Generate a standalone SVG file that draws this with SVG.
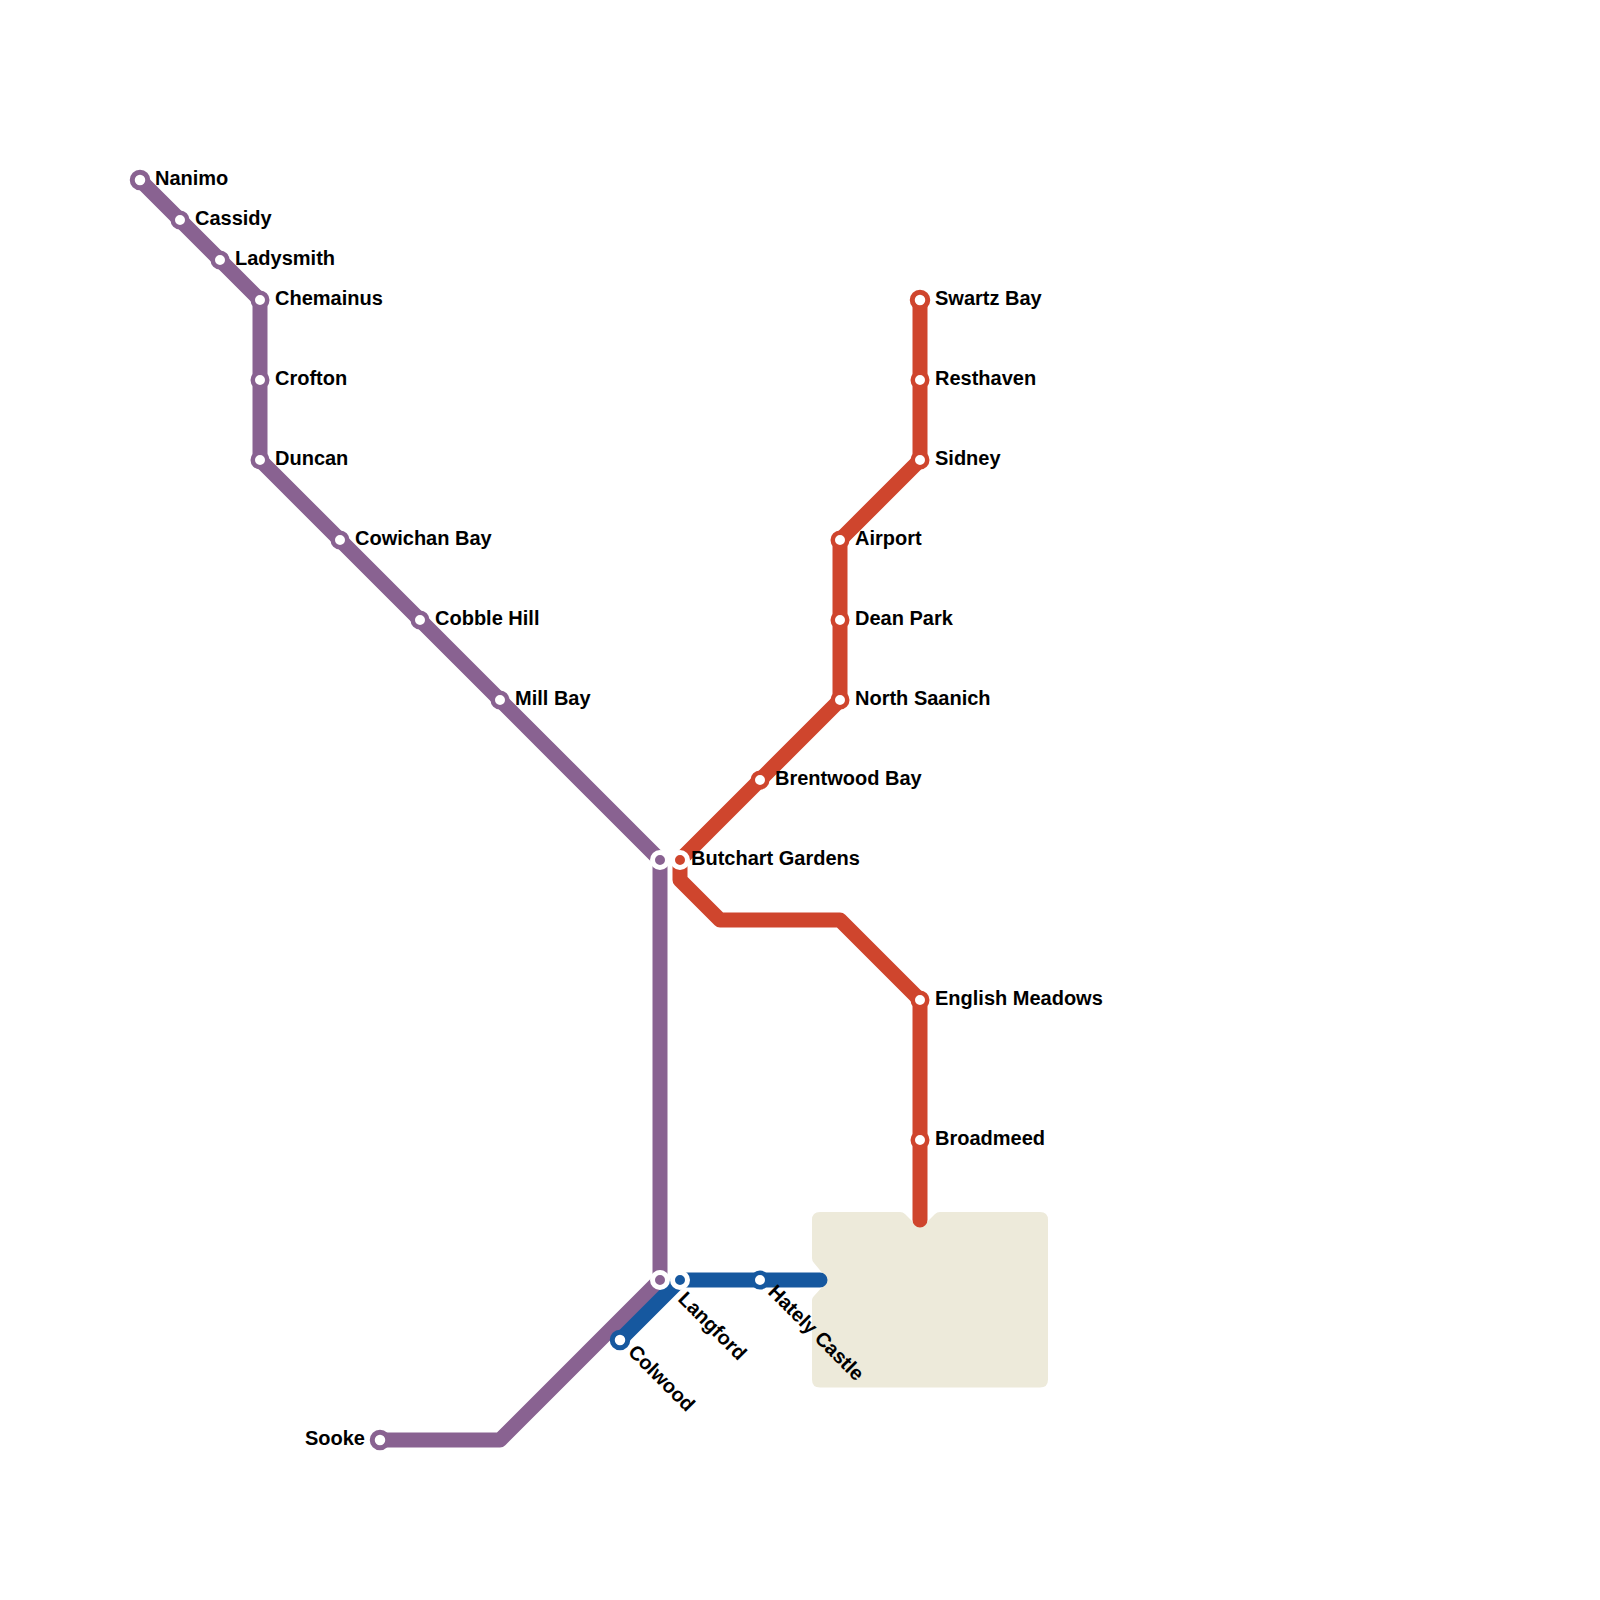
<svg xmlns="http://www.w3.org/2000/svg" width="1600" height="1600" viewBox="0 0 1600 1600">
<style>
.ln{fill:none;stroke-width:15;stroke-linecap:round;stroke-linejoin:round}
.p{stroke:#896291}.r{stroke:#cf452d}.b{stroke:#16589f}
.s{fill:#fff;stroke-width:4.5}
.e{fill:#fff;stroke-width:5}
.h{stroke:#fff;stroke-width:5}
text{font-family:"Liberation Sans",Arial,sans-serif;font-size:20px;font-weight:700;fill:#000}
</style>
<rect width="1600" height="1600" fill="#fff"/>
<path id="water" d="M820 1212H900Q903 1212 905 1214L915 1224Q920 1229 925 1224L935 1214Q937 1212 940 1212H1040Q1048 1212 1048 1220V1379.500Q1048 1387.500 1040 1387.500H820Q812 1387.500 812 1379.500V1300Q812 1298 814 1296L824 1285Q829 1280 824 1275L814 1263Q812 1261 812 1258V1220Q812 1212 820 1212Z" fill="#edeada"/>
<g id="connectors">
<path class="ln p" d="M140 180L260 300V460L660 860V1280L500 1440H380"/>
<path class="ln r" d="M920 300V460L840 540V700L680 860V880L720 920H840L920 1000V1220"/>
<path class="ln b" d="M620 1340L680 1280H820"/>
</g>
<g id="nanimo"><circle class="e p" cx="140" cy="180" r="7.750"/><text x="155" y="185">Nanimo</text></g>
<g id="cassidy"><circle class="s p" cx="180" cy="220" r="7.250"/><text x="195" y="225">Cassidy</text></g>
<g id="ladysmith"><circle class="s p" cx="220" cy="260" r="7.250"/><text x="235" y="265">Ladysmith</text></g>
<g id="chemainus"><circle class="s p" cx="260" cy="300" r="7.250"/><text x="275" y="305">Chemainus</text></g>
<g id="crofton"><circle class="s p" cx="260" cy="380" r="7.250"/><text x="275" y="385">Crofton</text></g>
<g id="duncan"><circle class="s p" cx="260" cy="460" r="7.250"/><text x="275" y="465">Duncan</text></g>
<g id="cowichan-bay"><circle class="s p" cx="340" cy="540" r="7.250"/><text x="355" y="545">Cowichan Bay</text></g>
<g id="cobble-hill"><circle class="s p" cx="420" cy="620" r="7.250"/><text x="435" y="625">Cobble Hill</text></g>
<g id="mill-bay"><circle class="s p" cx="500" cy="700" r="7.250"/><text x="515" y="705">Mill Bay</text></g>
<g id="hub-north"><circle class="h" cx="660" cy="860" r="7.500" fill="#896291"/></g>
<g id="butchart-gardens"><circle class="h" cx="680" cy="860" r="7.500" fill="#cf452d"/><text x="691" y="865">Butchart Gardens</text></g>
<g id="hub-south"><circle class="h" cx="660" cy="1280" r="7.500" fill="#896291"/></g>
<g id="langford"><circle class="h" cx="680" cy="1280" r="7.500" fill="#16589f"/><text transform="translate(677 1300) rotate(45)">Langford</text></g>
<g id="hately-castle"><circle class="s b" cx="760" cy="1280" r="7.250"/><text transform="translate(767 1293) rotate(45)">Hately Castle</text></g>
<g id="colwood"><circle class="e b" cx="620" cy="1340" r="7.750"/><text transform="translate(627 1353) rotate(45)">Colwood</text></g>
<g id="sooke"><circle class="e p" cx="380" cy="1440" r="7.750"/><text x="365" y="1445" text-anchor="end">Sooke</text></g>
<g id="swartz-bay"><circle class="e r" cx="920" cy="300" r="7.750"/><text x="935" y="305">Swartz Bay</text></g>
<g id="resthaven"><circle class="s r" cx="920" cy="380" r="7.250"/><text x="935" y="385">Resthaven</text></g>
<g id="sidney"><circle class="s r" cx="920" cy="460" r="7.250"/><text x="935" y="465">Sidney</text></g>
<g id="airport"><circle class="s r" cx="840" cy="540" r="7.250"/><text x="855" y="545">Airport</text></g>
<g id="dean-park"><circle class="s r" cx="840" cy="620" r="7.250"/><text x="855" y="625">Dean Park</text></g>
<g id="north-saanich"><circle class="s r" cx="840" cy="700" r="7.250"/><text x="855" y="705">North Saanich</text></g>
<g id="brentwood-bay"><circle class="s r" cx="760" cy="780" r="7.250"/><text x="775" y="785">Brentwood Bay</text></g>
<g id="english-meadows"><circle class="s r" cx="920" cy="1000" r="7.250"/><text x="935" y="1005">English Meadows</text></g>
<g id="broadmeed"><circle class="s r" cx="920" cy="1140" r="7.250"/><text x="935" y="1145">Broadmeed</text></g>
</svg>
